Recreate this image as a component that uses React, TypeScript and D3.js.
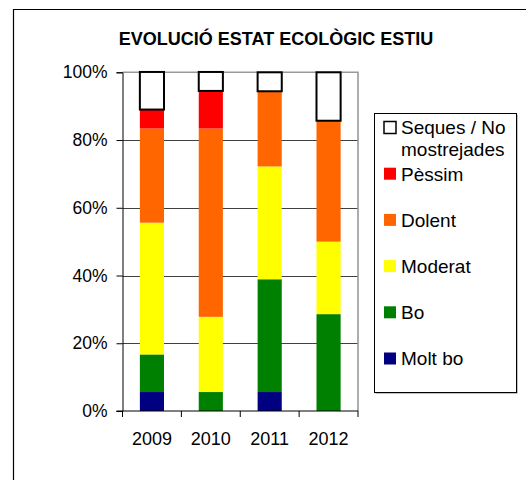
import { useEffect, useRef } from "react";
import * as d3 from "d3";

// years on the x axis
const years = ["2009", "2010", "2011", "2012"];

// share of stations (%) per state, bottom to top
const moltBo = [5.6, 0, 5.6, 0];
const bo = [11.1, 5.6, 33.3, 28.6];
const moderat = [38.9, 22.2, 33.3, 21.4];
const dolent = [27.8, 55.6, 22.2, 35.7];
const pessim = [5.6, 11.1, 0, 0];
const seques = [11.1, 5.6, 5.6, 14.3];

const yTicks = [0, 20, 40, 60, 80, 100];

const series = [
  { name: "Molt bo", values: moltBo, color: "#000080" },
  { name: "Bo", values: bo, color: "#008000" },
  { name: "Moderat", values: moderat, color: "#FFFF00" },
  { name: "Dolent", values: dolent, color: "#FF6600" },
  { name: "Pèssim", values: pessim, color: "#FF0000" },
  { name: "Seques / No mostrejades", values: seques, color: "#FFFFFF" },
];

const App = () => {
  const svgRef = useRef<SVGSVGElement>(null);

  useEffect(() => {
    const svg = d3.select(svgRef.current);
    svg.selectAll("*").remove();

    const font = "'Liberation Sans', Arial, sans-serif";
    const left = 122.5, right = 358, top = 72.3, bottom = 411;

    // outer chart frame (cut off at right / bottom)
    svg.append("path")
      .attr("d", "M13.5,480 L13.5,9.5 L526,9.5")
      .attr("fill", "none")
      .attr("stroke", "#000")
      .attr("stroke-width", 1.2);

    svg.append("text")
      .attr("x", 276)
      .attr("y", 45)
      .attr("text-anchor", "middle")
      .style("font-family", font)
      .style("font-size", "18px")
      .style("font-weight", "bold")
      .text("EVOLUCIÓ ESTAT ECOLÒGIC ESTIU");

    const x = d3.scaleBand()
      .domain(years)
      .range([left, right])
      .paddingInner(0.59)
      .paddingOuter(0.295);

    const y = d3.scaleLinear().domain([0, 100]).range([bottom, top]);

    // gridlines
    svg.append("g")
      .selectAll("line")
      .data(yTicks.filter((t) => t > 0 && t < 100))
      .enter()
      .append("line")
      .attr("x1", left)
      .attr("x2", right)
      .attr("y1", (d) => Math.round(y(d)) + 0.5)
      .attr("y2", (d) => Math.round(y(d)) + 0.5)
      .attr("stroke", "#404040")
      .attr("stroke-width", 1);

    // plot frame top / right in gray
    svg.append("path")
      .attr("d", `M${left},${top} L${right},${top} L${right},${bottom}`)
      .attr("fill", "none")
      .attr("stroke", "#999")
      .attr("stroke-width", 1.6);

    // stacked bars
    const table = years.map((yr, i) => {
      const row: any = { year: yr };
      series.forEach((s) => (row[s.name] = s.values[i]));
      return row;
    });
    const stacked = d3.stack().keys(series.map((s) => s.name))(table);

    stacked.forEach((layer, li) => {
      const s = series[li];
      const isSeques = li === series.length - 1;
      svg.append("g")
        .selectAll("rect")
        .data(layer)
        .enter()
        .filter((d) => d[1] - d[0] > 0)
        .append("rect")
        .attr("x", (d) => x(d.data.year as string)!)
        .attr("width", x.bandwidth())
        .attr("y", (d) => y(d[1]))
        .attr("height", (d) => y(d[0]) - y(d[1]))
        .attr("fill", s.color)
        .attr("stroke", isSeques ? "#000" : "none")
        .attr("stroke-width", isSeques ? 2 : 0);
    });

    // y axis
    const yAxis = svg.append("g")
      .attr("transform", `translate(${left},0)`)
      .call(d3.axisLeft(y).tickValues(yTicks).tickSize(6).tickPadding(9).tickFormat((d) => `${d}%`));
    yAxis.select(".domain").attr("stroke", "#000");
    yAxis.selectAll("text").style("font-family", font).style("font-size", "17.5px").attr("fill", "#000");

    // x axis with ticks at category boundaries
    const xg = svg.append("g").attr("transform", `translate(0,${bottom})`);
    xg.append("line")
      .attr("x1", left - 6)
      .attr("x2", right)
      .attr("stroke", "#000");
    const step = x.step();
    xg.selectAll(".tk")
      .data(d3.range(years.length + 1))
      .enter()
      .append("line")
      .attr("x1", (i) => left + i * step)
      .attr("x2", (i) => left + i * step)
      .attr("y1", 0)
      .attr("y2", 6)
      .attr("stroke", "#000");
    xg.selectAll(".lbl")
      .data(years)
      .enter()
      .append("text")
      .attr("x", (d) => x(d)! + x.bandwidth() / 2)
      .attr("y", 34)
      .attr("text-anchor", "middle")
      .style("font-family", font)
      .style("font-size", "18px")
      .text((d) => d);

    // legend
    const lg = svg.append("g");
    lg.append("rect")
      .attr("x", 375.5)
      .attr("y", 114.5)
      .attr("width", 142)
      .attr("height", 279)
      .attr("fill", "#808080");
    lg.append("rect")
      .attr("x", 374.5)
      .attr("y", 113.5)
      .attr("width", 142)
      .attr("height", 279)
      .attr("fill", "#fff")
      .attr("stroke", "#000");

    const legendItems = series.slice().reverse();
    legendItems.forEach((s, i) => {
      const cy = 127.5 + i * 46.2;
      lg.append("rect")
        .attr("x", 384)
        .attr("y", cy - 6)
        .attr("width", 12)
        .attr("height", 12)
        .attr("fill", s.color)
        .attr("stroke", s.name.startsWith("Seques") ? "#000" : "none")
        .attr("stroke-width", 1.5);
      const lines = s.name.startsWith("Seques") ? ["Seques / No", "mostrejades"] : [s.name];
      lines.forEach((ln, j) => {
        lg.append("text")
          .attr("x", 401)
          .attr("y", cy + j * 22)
          .attr("dy", "0.36em")
          .style("font-family", font)
          .style("font-size", "19px")
          .text(ln);
      });
    });
  }, []);

  return (
    <div style={{ position: "fixed", left: 0, top: 0 }}>
      <svg ref={svgRef} width={526} height={480} style={{ display: "block", background: "#fff" }}></svg>
    </div>
  );
};

export default App;
